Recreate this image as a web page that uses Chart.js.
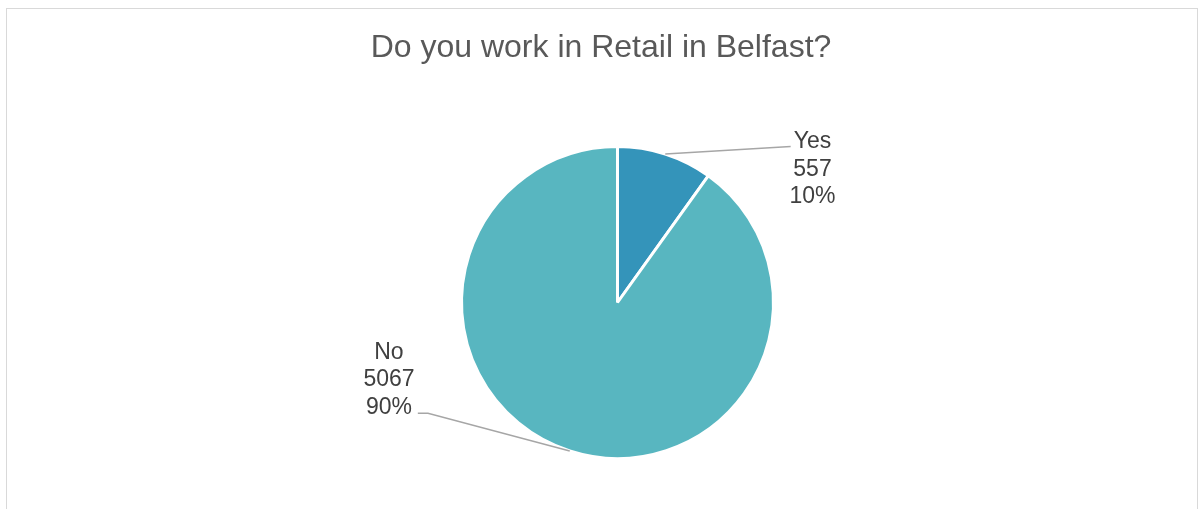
<!DOCTYPE html>
<html lang="en">
<head>
  <meta charset="UTF-8">
  <title>Do you work in Retail in Belfast?</title>
  <script src="https://cdn.jsdelivr.net/npm/chart.js"></script>
  <style>
    body {
      margin: 0;
      background: #fff;
      font-family: 'Liberation Sans', Arial, sans-serif;
    }
    .frame {
      position: absolute;
      left: 6px;
      top: 8px;
      width: 1192px;
      height: 560px;
      border: 1px solid #d9d9d9;
      box-sizing: border-box;
    }
    .chart-container {
      position: absolute;
      left: 0;
      top: 0;
      width: 1198px;
      height: 509px;
    }
  </style>
</head>
<body>
  <div class="frame"></div>
  <div class="chart-container">
    <canvas id="pieChart"></canvas>
  </div>

  <script>
    const chartTitle = 'Do you work in Retail in Belfast?';
    const categories = ['Yes', 'No'];
    const counts = [557, 5067];
    const colors = ['#3494ba', '#58b6c0'];

    const total = counts.reduce((a, b) => a + b, 0);

    // label boxes relative to pie centre, in radius units
    const labelOffsets = [
      { dx: 1.25, dy: -1.03, lineEnd: { dx: 1.11, dy: -1.0 } },
      { dx: -1.465, dy: 0.32, lineEnd: { dx: -1.28, dy: 0.71 }, elbow: { dx: -1.215, dy: 0.71 } }
    ];

    // title is drawn here so it is not squeezed by the pie's side padding
    const titlePlugin = {
      id: 'wideTitle',
      afterDraw(chart) {
        const ctx = chart.ctx;
        ctx.save();
        ctx.fillStyle = '#595959';
        ctx.font = '32px "Liberation Sans", Arial, sans-serif';
        ctx.textAlign = 'center';
        ctx.textBaseline = 'middle';
        ctx.fillText(chartTitle, chart.width / 2 + 2, 48);
        ctx.restore();
      }
    };

    const calloutPlugin = {
      id: 'callouts',
      afterDatasetsDraw(chart) {
        const ctx = chart.ctx;
        const meta = chart.getDatasetMeta(0);
        meta.data.forEach((arc, i) => {
          const { x, y, outerRadius: r, startAngle, endAngle } = arc.getProps(['x', 'y', 'outerRadius', 'startAngle', 'endAngle'], true);
          const mid = (startAngle + endAngle) / 2;
          const sx = x + Math.cos(mid) * r;
          const sy = y + Math.sin(mid) * r;
          const off = labelOffsets[i];

          ctx.save();
          ctx.strokeStyle = '#a6a6a6';
          ctx.lineWidth = 1.5;
          ctx.beginPath();
          ctx.moveTo(sx, sy);
          if (off.elbow) {
            ctx.lineTo(x + off.elbow.dx * r, y + off.elbow.dy * r);
          }
          ctx.lineTo(x + off.lineEnd.dx * r, y + off.lineEnd.dy * r);
          ctx.stroke();

          const pct = Math.round(counts[i] / total * 100) + '%';
          const lines = [categories[i], String(counts[i]), pct];
          ctx.fillStyle = '#404040';
          ctx.font = '23px "Liberation Sans", Arial, sans-serif';
          ctx.textAlign = 'center';
          ctx.textBaseline = 'middle';
          const lx = x + off.dx * r;
          const ly = y + off.dy * r;
          lines.forEach((t, k) => ctx.fillText(t, lx, ly + k * 27.5));
          ctx.restore();
        });
      }
    };

    const config = {
      type: 'pie',
      data: {
        labels: categories,
        datasets: [{
          data: counts,
          backgroundColor: colors,
          borderColor: '#ffffff',
          borderWidth: 3
        }]
      },
      options: {
        responsive: true,
        maintainAspectRatio: false,
        animation: false,
        layout: {
          padding: { top: 145, bottom: 49, left: 460, right: 423 }
        },
        plugins: {
          legend: { display: false },
          tooltip: { enabled: false },
          title: { display: false }
        }
      },
      plugins: [calloutPlugin, titlePlugin]
    };

    const ctx = document.getElementById('pieChart').getContext('2d');
    const chart = new Chart(ctx, config);
  </script>
</body>
</html>
